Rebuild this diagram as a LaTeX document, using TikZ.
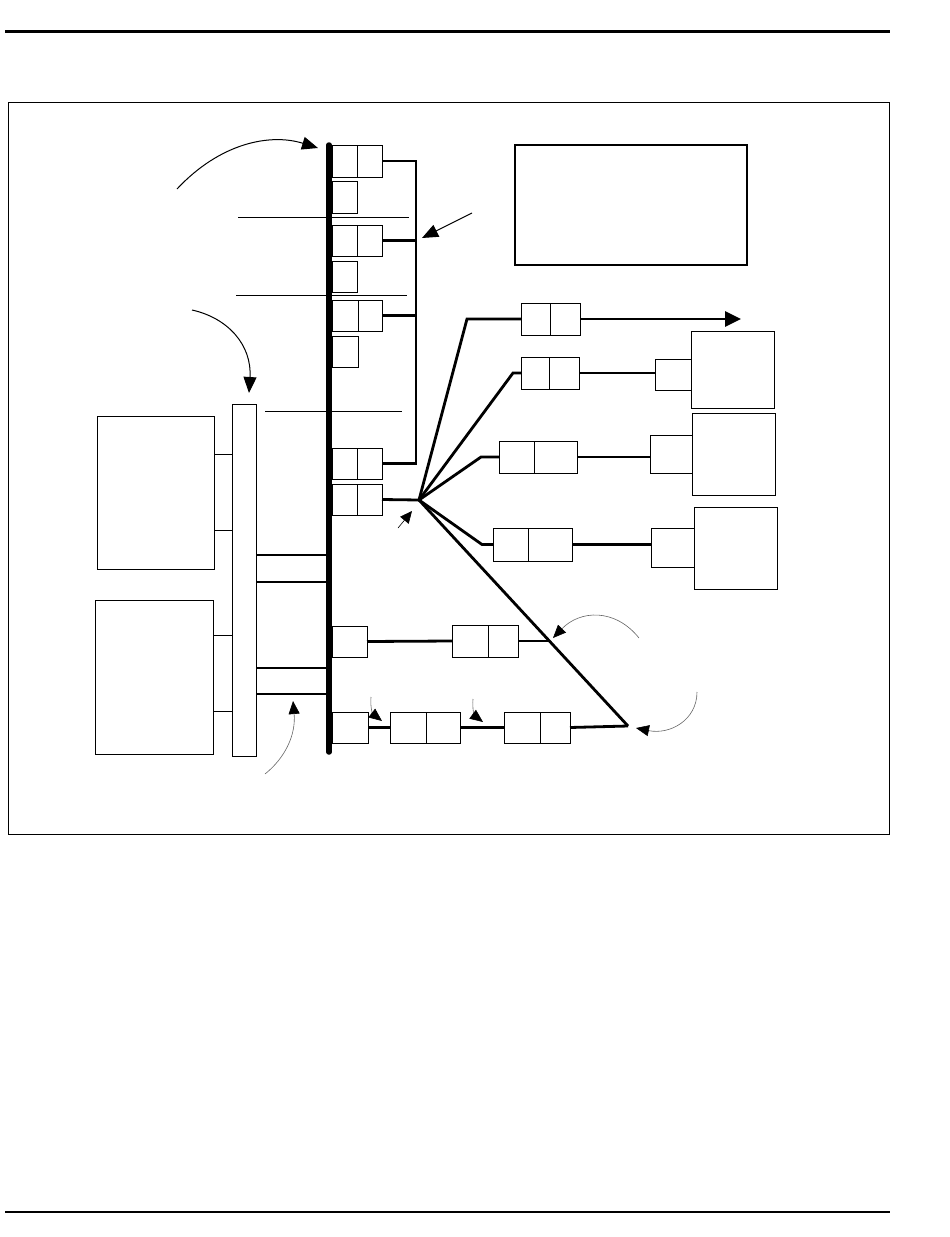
\documentclass[tikz,border=0pt]{standalone}
\usepackage{tikz}
\usetikzlibrary{arrows.meta, positioning, calc}

\begin{document}
\begin{tikzpicture}[x=1pt, y=-1pt,
  cell/.style={draw, line width=1pt, inner sep=0pt, outer sep=0pt},
  wire/.style={line width=2.8pt},
  hair/.style={line width=1pt},
  pointer/.style={line width=1pt, -{Triangle[length=16pt, width=13pt]}},
  smallpointer/.style={line width=0.6pt, black!60, -{Triangle[length=13pt, width=11pt, black]}}]
  \useasboundingbox (0,0) rectangle (950,1237);

  % page rules and frame
  \draw[line width=2.4pt] (5,31.5) -- (890,31.5);
  \draw[line width=2.4pt] (5,1212) -- (890,1212);
  \draw[line width=1pt] (8,102) rectangle (889,834);

  % legend box
  \node[cell, line width=1.5pt, minimum width=232, minimum height=120] (legend) at (631,205) {};

  % main bus
  \coordinate (bustop) at (329,145);
  \coordinate (busbot) at (329,752);
  \draw[line width=5.5pt, line cap=round] (bustop) -- (busbot);

  % cells on the bus
  \node[cell, minimum width=25, minimum height=32] (p1a) at (344.5,161) {};
  \node[cell, minimum width=25, minimum height=32] (p1b) at (369.5,161) {};
  \node[cell, minimum width=25, minimum height=32] (s1) at (344.5,197) {};
  \node[cell, minimum width=25, minimum height=31] (p2a) at (344.5,240.5) {};
  \node[cell, minimum width=25, minimum height=31] (p2b) at (369.5,240.5) {};
  \node[cell, minimum width=25, minimum height=31] (s2) at (344.5,276.5) {};
  \node[cell, minimum width=26, minimum height=31] (p3a) at (345,315.5) {};
  \node[cell, minimum width=24, minimum height=31] (p3b) at (370,315.5) {};
  \node[cell, minimum width=26, minimum height=31] (s3) at (345,351.5) {};
  \node[cell, minimum width=25, minimum height=31] (p4a) at (344.5,463.5) {};
  \node[cell, minimum width=25, minimum height=31] (p4b) at (369.5,463.5) {};
  \node[cell, minimum width=25, minimum height=31] (p5a) at (344.5,499.5) {};
  \node[cell, minimum width=25, minimum height=31] (p5b) at (369.5,499.5) {};
  \node[cell, minimum width=35, minimum height=31] (s4) at (349.5,641.5) {};
  \node[cell, minimum width=36, minimum height=31] (s5) at (350,727.5) {};

  % thin lines across the bus
  \draw[hair] (238,217) -- (409,217);
  \draw[hair] (236,295) -- (407,295);
  \draw[hair] (265,411) -- (402,411);

  % rail on the right of the bus
  \coordinate (rtop) at (416,161);
  \coordinate (rbot) at (416,463.5);
  \draw[wire] (p1b.east) -- (rtop) -- (rbot) -- (p4b.east);
  \draw[wire] (p2b.east) -- (p2b.east -| rtop);
  \draw[wire] (p3b.east) -- (p3b.east -| rtop);

  % hub and its branches
  \coordinate (hub) at (419,500);
  \coordinate (corner) at (628,726);
  \coordinate (cross) at (550,641);
  \draw[wire] (p5b.east) -- (hub);

  \node[cell, minimum width=29, minimum height=32] (q1a) at (535.5,319) {};
  \node[cell, minimum width=30, minimum height=32] (q1b) at (565,319) {};
  \node[cell, minimum width=28, minimum height=32] (q2a) at (535,373) {};
  \node[cell, minimum width=30, minimum height=32] (q2b) at (564,373) {};
  \node[cell, minimum width=35, minimum height=32] (q3a) at (516.5,457) {};
  \node[cell, minimum width=43, minimum height=32] (q3b) at (555.5,457) {};
  \node[cell, minimum width=35, minimum height=33] (q4a) at (510.5,544.5) {};
  \node[cell, minimum width=44, minimum height=33] (q4b) at (550,544.5) {};

  \node[cell, minimum width=36, minimum height=31] (r2) at (673,374.5) {};
  \node[cell, minimum width=83, minimum height=77] (d2) at (732.5,369.5) {};
  \node[cell, minimum width=42, minimum height=38] (r3) at (671,454) {};
  \node[cell, minimum width=83, minimum height=82] (d3) at (733.5,454) {};
  \node[cell, minimum width=43, minimum height=39] (r4) at (672.5,547.5) {};
  \node[cell, minimum width=83, minimum height=82] (d4) at (735.5,548) {};
  \coordinate (far) at (741,319);

  \draw[wire] (hub) -- (467,319) -- (q1a.west);
  \draw[wire] (hub) -- (513,373) -- (q2a.west);
  \draw[wire] (hub) -- (481,457) -- (q3a.west);
  \draw[wire] (hub) -- (482,544.5) -- (q4a.west);
  \draw[wire] (hub) -- (corner);
  \draw[wire, -{Triangle[length=16pt, width=15pt]}] (q1b.east) -- (far);
  \draw[wire] (q2b.east) -- (q2b.east -| r2.west);
  \draw[wire] (q3b.east) -- (q3b.east -| r3.west);
  \draw[wire] (q4b.east) -- (q4b.east -| r4.west);

  % lower rows
  \node[cell, minimum width=36, minimum height=32] (t1a) at (470,641) {};
  \node[cell, minimum width=30, minimum height=32] (t1b) at (503,641) {};
  \node[cell, minimum width=36, minimum height=31] (t2a) at (408,727.5) {};
  \node[cell, minimum width=34, minimum height=31] (t2b) at (443,727.5) {};
  \node[cell, minimum width=36, minimum height=31] (t3a) at (522,727.5) {};
  \node[cell, minimum width=30, minimum height=31] (t3b) at (555,727.5) {};
  \draw[wire] (s4.east) -- (t1a.west);
  \draw[wire] (t1b.east) -- (cross);
  \draw[wire] (s5.east) -- (t2a.west);
  \draw[wire] (t2b.east) -- (t3a.west);
  \draw[wire] (t3b.east) -- (corner);

  % left side units
  \node[cell, minimum width=24, minimum height=352] (bar) at (244,580) {};
  \node[cell, minimum width=117, minimum height=153] (L1) at (155.5,492.5) {};
  \node[cell, minimum width=18, minimum height=76] (c1) at (223,492) {};
  \node[cell, minimum width=118, minimum height=154] (L2) at (154,677) {};
  \node[cell, minimum width=19, minimum height=76] (c2) at (222.5,673) {};
  \foreach \yy in {555, 582, 668, 694}
    \draw[wire] (bar.east |- 0,\yy) -- (bustop |- 0,\yy);

  % pointers
  \draw[pointer] (177,189) .. controls (220,143) and (270,133) .. (318,148);
  \draw[pointer] (192,310) .. controls (228,318) and (252,345) .. (249,393);
  \draw[pointer] (472,213) -- (422,238);
  \draw[pointer, line width=0.6pt, -{Triangle[length=12pt, width=11pt]}] (398,528) -- (412,511);
  \draw[smallpointer] (265,774) .. controls (285,758) and (296,735) .. (293,701);
  \draw[smallpointer] (639,638) .. controls (615,608) and (580,610) .. (553,638);
  \draw[smallpointer] (697,692) .. controls (697,720) and (670,735) .. (636,728);
  \draw[smallpointer] (371,697) .. controls (370,708) and (373,714) .. (382,721);
  \draw[smallpointer] (473,699) .. controls (472,710) and (475,716) .. (483,722);
\end{tikzpicture}
\end{document}
